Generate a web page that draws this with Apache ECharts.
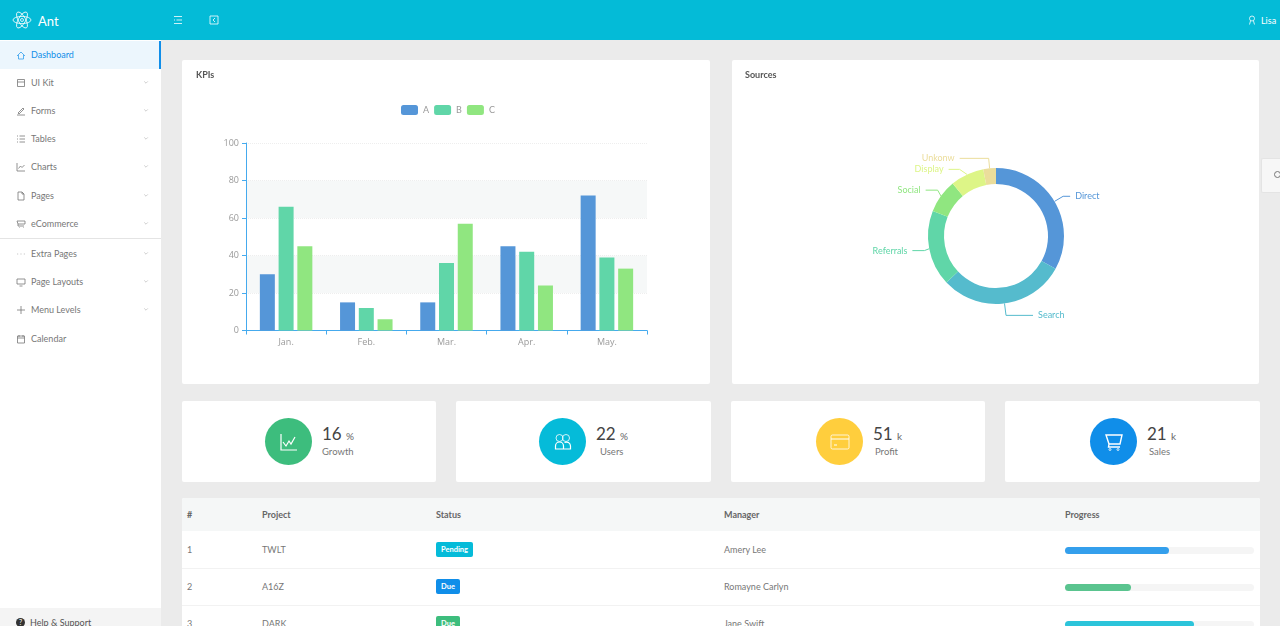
<!DOCTYPE html>
<html>
<head>
<meta charset="utf-8">
<title>Ant</title>
<script src="https://cdn.jsdelivr.net/npm/echarts@6/dist/echarts.min.js"></script>
<style>
html, body { margin: 0; width: 1280px; height: 626px; overflow: hidden; background: #ebebeb; font-family: Lato, "Open Sans", sans-serif; color: #666; font-size: 9px; }
div, span { position: absolute; box-sizing: border-box; white-space: nowrap; }
svg { position: absolute; fill: none; stroke: currentColor; }
.card { background: #fff; border-radius: 2px; }
</style>
</head>
<body>
<div id="page" style="left:0;top:0;width:1280px;height:626px"></div>
<script>
const months = ['Jan.', 'Feb.', 'Mar.', 'Apr.', 'May.'];
const seriesA = [30, 15, 15, 45, 72];
const seriesB = [66, 12, 36, 42, 39];
const seriesC = [45, 6, 57, 24, 33];
const barColors = ['#5596d8', '#60d6a8', '#90e680'];
const yTicks = { min: 0, max: 100, interval: 20 };

const sourceNames = ['Direct', 'Search', 'Referrals', 'Social', 'Display', 'Unkonw'];
const sourceValues = [33, 30, 18, 8, 8, 3];
const sourceColors = ['#5596d8', '#55bbcd', '#60d6a8', '#90e680', '#ddf587', '#ebdd9b'];

const menuItems = ['Dashboard', 'UI Kit', 'Forms', 'Tables', 'Charts', 'Pages', 'eCommerce', 'Extra Pages', 'Page Layouts', 'Menu Levels', 'Calendar'];
const menuTops = [55, 83, 111, 139, 167, 196, 224, 254, 282, 310, 339];
const statValues = ['16', '22', '51', '21'];
const statUnits = ['%', '%', 'k', 'k'];
const statNames = ['Growth', 'Users', 'Profit', 'Sales'];
const statColors = ['#3dbd7d', '#05bbd9', '#ffce3d', '#108ee9'];
const tableHeads = ['#', 'Project', 'Status', 'Manager', 'Progress'];
const projects = ['TWLT', 'A16Z', 'DARK'];
const statuses = ['Pending', 'Due', 'Due'];
const statusColors = ['#05bbd9', '#108ee9', '#3dbd7d'];
const managers = ['Amery Lee', 'Romayne Carlyn', 'Jane Swift'];
const progress = [55, 35, 68];
const progressColors = ['#349fec', '#5ac48f', '#2cc4da'];

const menuGlyphs = [
  '<path d="M1 6 5 2l4 4M2.5 5v4h5V5"/>',
  '<path d="M1.5 1.5h7v7h-7zM1.5 4h7"/>',
  '<path d="M2 7 7 2l1 1-5 5zM1 9h8"/>',
  '<path d="M1 2h1M1 5h1M1 8h1M3.5 2H9M3.5 5H9M3.5 8H9"/>',
  '<path d="M1 1v8h8M2.5 6.5 4.5 4l1.5 1.5L8.5 3"/>',
  '<path d="M2 1h4l2 2v6H2zM6 1v2h2"/>',
  '<path d="M1 2h8v3H2zM2 5v2h6M3 8.5h.5M7 8.5h.5"/>',
  '<path d="M1.5 5h.6M4.7 5h.6M7.9 5h.6"/>',
  '<path d="M1 2h8v5H1zM3.5 9h3"/>',
  '<path d="M5 1v8M1 5h8"/>',
  '<path d="M1.5 2h7v7h-7zM1.5 4h7M3 1v2M7 1v2"/>'
];
const statGlyphs = [
  '<path d="M2 2v16h16M4 10l3 4 3-5 2 3 4-7" stroke-width="1.2"/>',
  '<circle cx="6.5" cy="6" r="3.5"/><circle cx="13" cy="6" r="3.5"/><path d="M2.5 17v-3a4 4 0 0 1 8 0v3zM10 17h7.5v-3a4 4 0 0 0-6-3.4" stroke-width="1.2"/>',
  '<rect x="1" y="3" width="18" height="14" rx="1.5"/><path d="M1 7h18M4 13h3" stroke-width="1.2"/>',
  '<path d="M2 3h16l-2 9H5zM5 12l-.5 3H16" stroke-width="1.4"/><circle cx="6" cy="17.5" r="1"/><circle cx="14" cy="17.5" r="1"/>'
];

const page = document.getElementById('page');

function add(css, html) {
  const el = document.createElement('div');
  el.style.cssText = css;
  if (html !== undefined) el.innerHTML = html;
  page.appendChild(el);
  return el;
}

function icon(x, y, size, box, glyph, color) {
  return add(`left:${x}px;top:${y}px;width:${size}px;height:${size}px;color:${color}`,
    `<svg width="${size}" height="${size}" viewBox="0 0 ${box} ${box}" stroke-width="0.8">${glyph}</svg>`);
}

// header
add('left:0;top:0;width:1280px;height:40px;background:#04bbd7');
icon(12, 10, 20, 20, '<ellipse cx="10" cy="10" rx="9" ry="3.6"/><ellipse cx="10" cy="10" rx="9" ry="3.6" transform="rotate(60 10 10)"/><ellipse cx="10" cy="10" rx="9" ry="3.6" transform="rotate(120 10 10)"/><circle cx="10" cy="10" r="1.5"/>', '#fff');
add('left:38px;top:12px;font-size:13px;line-height:18px;color:#fff', 'Ant');
icon(173, 15, 10, 10, '<path d="M1 1.5h8M3.5 5H9M1 8.5h8M1 5h1"/>', '#fff');
icon(209, 15, 10, 10, '<path d="M1 1h8v8H1zM6 3 4 5l2 2"/>', '#fff');
icon(1247, 15, 10, 10, '<circle cx="5" cy="3.5" r="2.5"/><path d="M2.5 9.5 3.5 6M7.5 9.5 6.5 6"/>', '#fff');
add('left:1261px;top:15px;line-height:11px;font-size:9px;color:#fff', 'Lisa');

// sidebar
add('left:0;top:40px;width:161px;height:586px;background:#fff');
add('left:0;top:41px;width:161px;height:28px;background:#ecf6fd;border-right:2px solid #108ee9');
add('left:0;top:238px;width:161px;height:1px;background:#e4e4e4');
menuItems.forEach((name, i) => {
  const color = i === 0 ? '#108ee9' : '#777';
  icon(16, menuTops[i] - 5, 10, 10, menuGlyphs[i], i === 0 ? '#349fec' : '#777');
  add(`left:31px;top:${menuTops[i] - 7}px;line-height:14px;font-size:9px;color:${color}`, name);
  if (i > 0 && i < 10) {
    icon(143, menuTops[i] - 4, 6, 10, '<path d="M2 4l3 3 3-3"/>', '#999');
  }
});
add('left:0;top:608px;width:161px;height:18px;background:#f4f4f4');
add('left:16px;top:618px;width:9px;height:9px;line-height:9px;text-align:center;border-radius:50%;background:#333;color:#fff;font-size:7px', '?');
add('left:30px;top:616px;line-height:14px;font-size:9px;color:#555', 'Help &amp; Support');

// chart cards
add('left:182px;top:60px;width:528px;height:324px').className = 'card';
add('left:732px;top:60px;width:527px;height:324px').className = 'card';
const kpiChart = add('left:182px;top:60px;width:528px;height:324px');
const sourceChart = add('left:732px;top:60px;width:527px;height:324px');
add('left:196px;top:67.5px;line-height:13px;font-size:9px;font-weight:700;color:#555', 'KPIs');
add('left:745px;top:67.5px;line-height:13px;font-size:9px;font-weight:700;color:#555', 'Sources');
add('left:1261px;top:158px;width:19px;height:35px;background:#f7f7f7;border:1px solid #e4e4e4;border-right:0;border-radius:2px 0 0 2px');
add('left:1274px;top:171px;width:7px;height:7px;border-radius:50%;border:1px solid #777');

// stat cards
const statLefts = [182, 456, 731, 1005];
const statWidths = [254, 255, 254, 255];
const statCircle = [265, 539, 816, 1090];
const statText = [322, 596, 873, 1147];
const nameShift = [0, 4, 2, 2];
statNames.forEach((name, i) => {
  add(`left:${statLefts[i]}px;top:401px;width:${statWidths[i]}px;height:81px`).className = 'card';
  add(`left:${statCircle[i]}px;top:418px;width:47px;height:47px;border-radius:50%;background:${statColors[i]}`);
  icon(statCircle[i] + 14, 432, 20, 20, statGlyphs[i], '#fff');
  add(`left:${statText[i]}px;top:423.5px;line-height:20px;font-size:17px;color:#444`, `${statValues[i]} <span style="position:static;font-size:10px;color:#666">${statUnits[i]}</span>`);
  add(`left:${statText[i] + nameShift[i]}px;top:445px;line-height:14px;font-size:9.5px;color:#777`, name);
});

// table
const colLefts = [187, 262, 436, 724, 1065];
add('left:182px;top:498px;width:1078px;height:128px;background:#fff;border-radius:2px 2px 0 0');
add('left:182px;top:498px;width:1078px;height:33px;background:#f5f7f7;border-radius:2px 2px 0 0');
tableHeads.forEach((head, i) => {
  add(`left:${colLefts[i]}px;top:508px;line-height:14px;font-size:9px;font-weight:700;color:#666`, head);
});
projects.forEach((project, i) => {
  const mid = 550 + i * 37;
  add(`left:182px;top:${mid + 18}px;width:1078px;height:1px;background:#f2f2f2`);
  add(`left:${colLefts[0]}px;top:${mid - 7}px;line-height:14px;font-size:9px;color:#777`, String(i + 1));
  add(`left:${colLefts[1]}px;top:${mid - 7}px;line-height:14px;font-size:9px;color:#777`, project);
  add(`left:${colLefts[2]}px;top:${mid - 8}px;height:15px;line-height:15px;padding:0 5px;border-radius:2px;font-size:7.5px;font-weight:700;color:#fff;background:${statusColors[i]}`, statuses[i]);
  add(`left:${colLefts[3]}px;top:${mid - 7}px;line-height:14px;font-size:9px;color:#777`, managers[i]);
  add(`left:1065px;top:${mid - 3}px;width:189px;height:7px;border-radius:4px;background:#f5f5f5`);
  add(`left:1065px;top:${mid - 3}px;width:${progress[i] * 1.89}px;height:7px;border-radius:4px;background:${progressColors[i]}`);
});

// charts
const axisBlue = '#45aaee';
const bars = echarts.init(kpiChart);
bars.setOption({
  animation: false,
  textStyle: { fontFamily: 'Open Sans' },
  legend: {
    top: 40,
    left: 214,
    itemWidth: 17,
    itemHeight: 10,
    itemGap: 5,
    textStyle: { color: '#999', fontSize: 9, fontFamily: 'Lato' }
  },
  grid: { left: 64, right: 63, top: 83, bottom: 53.5 },
  xAxis: {
    type: 'category',
    data: months,
    axisLine: { lineStyle: { color: axisBlue } },
    axisTick: { show: true, alignWithLabel: false, lineStyle: { color: axisBlue }, length: 4 },
    axisLabel: { color: '#999', fontSize: 9, margin: 7 }
  },
  yAxis: {
    type: 'value',
    min: yTicks.min,
    max: yTicks.max,
    interval: yTicks.interval,
    axisLine: { show: true, lineStyle: { color: axisBlue } },
    axisTick: { show: true, lineStyle: { color: axisBlue }, length: 4 },
    axisLabel: { color: '#999', fontSize: 9, margin: 7 },
    splitLine: { lineStyle: { color: '#eee', type: 'dotted' } },
    splitArea: { show: true, areaStyle: { color: ['#fff', '#f6f8f8'] } }
  },
  series: [seriesA, seriesB, seriesC].map((values, i) => ({
    name: ['A', 'B', 'C'][i],
    type: 'bar',
    data: values,
    barWidth: 15,
    barGap: '25%',
    itemStyle: { color: barColors[i] }
  }))
});

// label line legs, longer where the reference pushes the label out
const labelLengths = [10, 12, 10, 10, 10, 10];
const labelLegs = [7, 27, 12, 12, 11, 29];

const donut = echarts.init(sourceChart);
donut.setOption({
  animation: false,
  textStyle: { fontFamily: 'Lato' },
  series: [{
    type: 'pie',
    center: [264, 176],
    radius: [52, 68],
    startAngle: 90,
    clockwise: true,
    data: sourceNames.map((name, i) => ({
      name,
      value: sourceValues[i],
      itemStyle: { color: sourceColors[i] },
      label: { color: sourceColors[i] },
      labelLine: { length: labelLengths[i], length2: labelLegs[i], lineStyle: { color: sourceColors[i] } }
    })),
    label: { fontSize: 9, fontFamily: 'Lato' },
    labelLine: { length: 10, length2: 10, smooth: false }
  }]
});
</script>
</body>
</html>
